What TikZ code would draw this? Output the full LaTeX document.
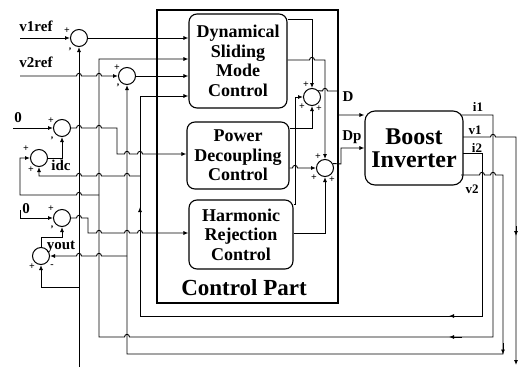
\documentclass[tikz,border=0pt]{standalone}
\usepackage{fontspec}
\setmainfont{Liberation Serif}
\usetikzlibrary{arrows.meta,calc}
\tikzset{
  wire/.style={line width=0.9pt},
  arr/.style={wire,-{Latex[length=5pt,width=4pt]}},
  sumnode/.style={circle,draw,line width=1pt,minimum size=17pt,inner sep=0pt},
  blk/.style={draw,line width=1.1pt,rounded corners=8pt,align=center,inner sep=0pt,
    font=\fontsize{18}{19.5}\selectfont\bfseries},
  lab/.style={inner sep=0pt,font=\fontsize{15}{15}\selectfont\bfseries},
  slab/.style={inner sep=0pt,font=\fontsize{13}{13}\selectfont\bfseries},
  sgn/.style={inner sep=0pt,font=\fontsize{10}{10}\selectfont\bfseries},
  hr/.style 2 args={insert path={-- (#1-2.5,#2) .. controls (#1-2.5,#2-3.5) and (#1+2.5,#2-3.5) .. (#1+2.5,#2)}},
  hl/.style 2 args={insert path={-- (#1+2.5,#2) .. controls (#1+2.5,#2-3.5) and (#1-2.5,#2-3.5) .. (#1-2.5,#2)}},
}
\begin{document}
\begin{tikzpicture}[x=1pt,y=-1pt]
\useasboundingbox (0,0) rectangle (521,367);

% Control part frame
\draw[line width=1.4pt] (157,10) rectangle (338,303);
\node[inner sep=0pt,font=\fontsize{23}{23}\selectfont\bfseries] (cplab) at (244,288) {Control Part};

% blocks
\node[blk,minimum width=98pt,minimum height=94pt] (dsmc) at (238,61) {Dynamical\\Sliding\\Mode\\Control};
\node[blk,minimum width=102pt,minimum height=67pt] (pdc) at (238,155.5) {Power\\Decoupling\\Control};
\node[blk,minimum width=104pt,minimum height=69pt] (hrc) at (241,234.5) {Harmonic\\Rejection\\Control};
\node[blk,rounded corners=10pt,minimum width=98pt,minimum height=74pt,
      font=\fontsize{24}{23}\selectfont\bfseries] (boost) at (414,148) {Boost\\Inverter};

% summing junctions
\node[sumnode] (s1) at (79,38) {};
\node[sumnode] (s2) at (127,76) {};
\node[sumnode] (s3) at (62,128) {};
\node[sumnode] (s4) at (39,158) {};
\node[sumnode] (s5) at (62,218) {};
\node[sumnode] (s6) at (41,256) {};
\node[sumnode] (dsum) at (312,97) {};
\node[sumnode] (dpsum) at (325,168) {};

% free ends and junctions
\coordinate (v1refin) at (20,38);
\coordinate (v2refin) at (20,76);
\coordinate (zero1) at (13,128);
\coordinate (zero2) at (20,210);
\coordinate (v1fb) at (79,367);
\coordinate (v1out) at (516,365);
\coordinate (j1) at (99,195);
\coordinate (j2) at (140,176);
\coordinate (j3) at (127,256);
\coordinate (j4) at (79,287);
\coordinate (bo1) at (461,115);
\coordinate (bo2) at (463,137);
\coordinate (bo3) at (463,153);
\coordinate (bo4) at (461,175);

% labels
\node[lab] (l1) at (36,26) {v1ref};
\node[lab] (l2) at (36,62) {v2ref};
\node[lab] (l3) at (18,118) {0};
\node[lab] (l4) at (61,165) {idc};
\node[lab] (l5) at (26,209) {0};
\node[lab] (l6) at (61,247) {yout};
\node[lab] (l7) at (348,97) {D};
\node[lab] (l8) at (352,137) {Dp};
\node[slab] (l9) at (478,107) {i1};
\node[slab] (l10) at (475,130) {v1};
\node[slab] (l11) at (477,148) {i2};
\node[slab] (l12) at (472,189) {v2};

% signs
\node[sgn] at (67,31) {+};   \node[sgn] at (70,51) {'};
\node[sgn] at (117,68) {+};  \node[sgn] at (118,87) {'};
\node[sgn] at (51,121) {+};  \node[sgn] at (52,140) {'};
\node[sgn] at (26,149) {+};  \node[sgn] at (31,170) {+};
\node[sgn] at (51,209) {+};  \node[sgn] at (52,229) {'};
\node[sgn] at (32,267) {+};  \node[sgn] at (52,266) {-};
\node[sgn] at (306,85) {+};  \node[sgn] at (302,107) {+}; \node[sgn] at (319,109) {+};
\node[sgn] at (318,157) {+}; \node[sgn] at (314,178) {+}; \node[sgn] at (332,180) {+};

% references
\draw[arr] (v1refin) -- (s1);
\draw[arr] (v2refin) [hr={79}{76}] [hr={99}{76}] -- (s2);
\draw[arr] (s1) -- (s1 -| dsmc.west);
\draw[arr] (s2) -- (s2 -| dsmc.west);

% feedback i1
\draw[arr] (bo1) -- (493,115) -- (493,337) [hl={127}{337}] -- (99,337) -- (99,59) -- (dsmc.west |- 0,59);
\draw[arr] (j1) [hl={79}{195}] -- (20,195) -- (20,158) -- (s4);
% feedback i2
\draw[arr] (bo3) -- (482,153) -- (482,316) -- (140,316) -- (140,96) -- (dsmc.west |- 0,96);
\draw[arr] (j2) [hl={127}{176}] [hl={99}{176}] [hl={79}{176}] -- (39,176) -- (s4);
% feedback v2
\draw[arr] (bo4) [hr={482}{175}] [hr={493}{175}] -- (503,175) -- (503,354) -- (127,354) -- (s2);
\draw[arr] (j3) [hl={99}{256}] [hl={79}{256}] -- (s6);
% feedback v1
\draw[arr] (bo2) [hr={493}{137}] -- (516,137) -- (v1out);
\draw[arr] (v1fb) -- (s1);
\draw[arr] (j4) -- (41,287) -- (s6);

% mid arrows
\draw[arr] (516,226) -- (516,236);
\draw[arr] (140,217) -- (140,207);
\draw[arr] (462,316) -- (449,316);
\draw[arr] (462,337) -- (449,337);
\draw[arr] (503,343) -- (503,354.5);

% left signal processing
\draw[arr] (zero1) -- (s3);
\draw[arr] (s4) -- (62,158) -- (s3);
\draw[arr] (s3) [hr={79}{128}] [hr={99}{128}] -- (117,128) -- (117,154) [hr={127}{154}] [hr={140}{154}] -- (pdc.west |- 0,154);
\draw[arr] (zero2) -- (20,218) -- (s5);
\draw[arr] (s5) [hr={79}{218}] -- (88,218) -- (88,233) [hr={99}{233}] [hr={127}{233}] [hr={140}{233}] -- (hrc.west |- 0,233);
\draw[arr] (s6) -- (41,237) -- (62,237) -- (s5);

% inside control part
\draw[arr] (dsmc.east |- 0,19) -- (312,19) -- (dsum);
\draw[arr] (dsmc.east |- 0,60) [hr={312}{60}] -- (325,60) -- (dpsum);
\draw[arr] (pdc.east |- 0,128) -- (312,128) -- (dsum);
\draw[arr] (pdc.east |- 0,168) [hr={295}{168}] -- (dpsum);
\draw[arr] (hrc.east |- 0,204) -- (295,204) -- (295,97) -- (dsum);
\draw[arr] (hrc.east |- 0,233) -- (325,233) -- (dpsum);
\draw[arr] (dsum.45) [hr={325}{91}] -- (338,91) -- (338,115) -- (boost.west |- 0,115);
\draw[arr] (dpsum.30) -- (341,164) -- (341,148) -- (boost.west |- 0,148);
\end{tikzpicture}
\end{document}
